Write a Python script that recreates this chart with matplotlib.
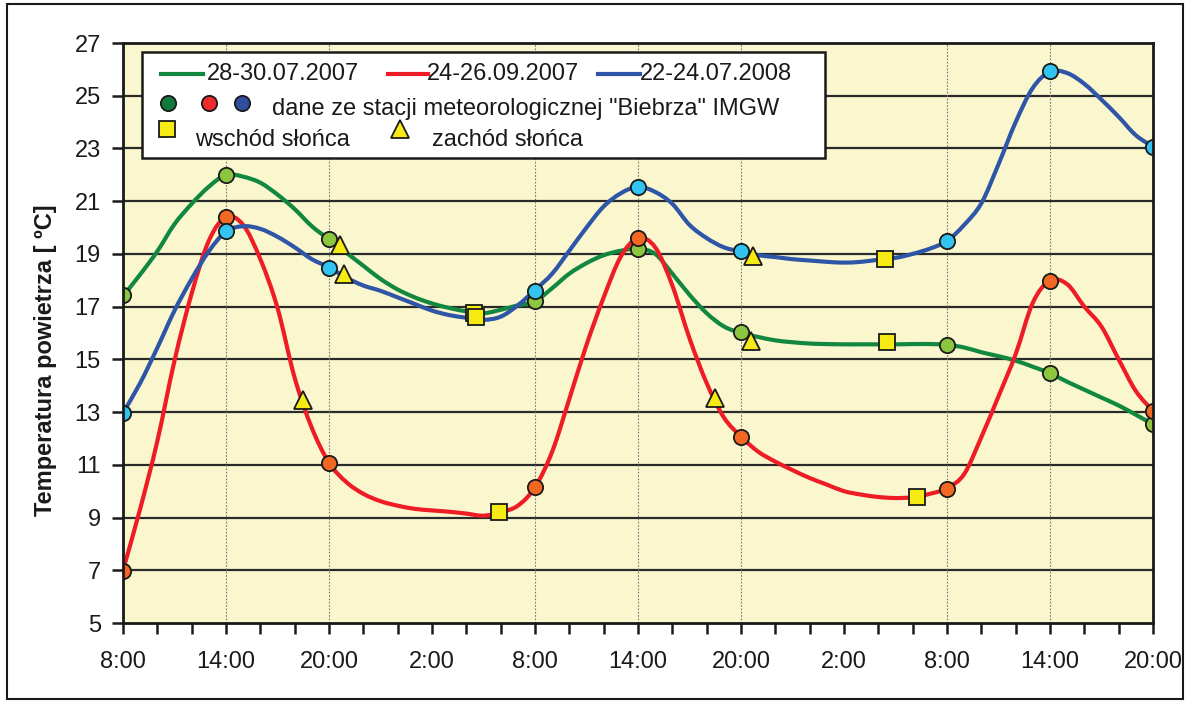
import matplotlib
matplotlib.use("Agg")
import matplotlib.pyplot as plt
from matplotlib.patches import Rectangle, PathPatch
from matplotlib.path import Path
from matplotlib.lines import Line2D

# ---------------- data ----------------
hours = list(range(0, 61))  # hours since 8:00 of day 1
tick_hours = list(range(0, 61, 2))
tick_labels = ["8:00", "", "", "14:00", "", "", "20:00", "", "", "2:00", "", "",
               "8:00", "", "", "14:00", "", "", "20:00", "", "", "2:00", "", "",
               "8:00", "", "", "14:00", "", "", "20:00"]
y_ticks = [5, 7, 9, 11, 13, 15, 17, 19, 21, 23, 25, 27]

series_names = ["28-30.07.2007", "24-26.09.2007", "22-24.07.2008"]

t_2007_07 = [17.4, 18.22, 19.1, 20.13, 20.9, 21.55, 22.0, 21.93, 21.7, 21.25,
             20.7, 20.05, 19.55, 19.05, 18.55, 18.05, 17.65, 17.35, 17.12, 16.95,
             16.82, 16.75, 16.88, 17.05, 17.2, 17.7, 18.25, 18.65, 18.95, 19.12,
             19.2, 19.0, 18.25, 17.45, 16.75, 16.25, 16.0, 15.85, 15.72, 15.65,
             15.6, 15.58, 15.57, 15.57, 15.57, 15.57, 15.58, 15.58, 15.55, 15.45,
             15.27, 15.12, 14.95, 14.72, 14.47, 14.15, 13.85, 13.55, 13.25, 12.9,
             12.53]
t_2007_09 = [7.0, 9.33, 11.9, 14.95, 17.5, 19.5, 20.4, 20.1, 18.8, 16.95,
             14.3, 12.4, 11.08, 10.35, 9.9, 9.62, 9.45, 9.33, 9.27, 9.22,
             9.15, 9.07, 9.2, 9.45, 10.15, 11.5, 13.5, 15.55, 17.35, 18.9,
             19.6, 19.25, 17.8, 15.8, 14.1, 12.8, 12.07, 11.5, 11.12, 10.8,
             10.5, 10.25, 10.0, 9.87, 9.78, 9.74, 9.77, 9.9, 10.11, 10.65,
             12.05, 13.6, 15.2, 17.15, 17.99, 17.85, 17.0, 16.24, 15.0, 13.8,
             13.04]
t_2008_07 = [12.97, 14.1, 15.44, 16.85, 18.05, 19.1, 19.85, 20.05, 19.95, 19.65,
             19.25, 18.8, 18.49, 18.1, 17.8, 17.6, 17.35, 17.1, 16.85, 16.68,
             16.58, 16.5, 16.62, 17.05, 17.63, 18.25, 19.12, 20.0, 20.8, 21.3,
             21.55, 21.35, 20.9, 20.1, 19.6, 19.25, 19.09, 18.95, 18.88, 18.8,
             18.75, 18.7, 18.67, 18.7, 18.78, 18.85, 19.0, 19.2, 19.49, 20.1,
             20.92, 22.4, 24.0, 25.3, 25.91, 25.86, 25.45, 24.85, 24.2, 23.5,
             23.07]

# station "Biebrza" IMGW readings (8:00, 14:00, 20:00)
station_hours = [0, 6, 12, 24, 30, 36, 48, 54, 60]
station_2007_07 = [17.44, 22.0, 19.57, 17.22, 19.19, 16.02, 15.55, 14.48, 12.53]
station_2007_09 = [6.98, 20.41, 11.08, 10.15, 19.62, 12.07, 10.09, 17.99, 13.04]
station_2008_07 = [12.97, 19.86, 18.48, 17.6, 21.55, 19.1, 19.49, 25.92, 23.07]

# sunrise (squares) and sunset (triangles)
sunrise_h_2007_07 = [20.45, 44.5]
sunrise_t_2007_07 = [16.76, 15.67]
sunset_h_2007_07 = [12.65, 36.6]
sunset_t_2007_07 = [19.34, 15.71]

sunrise_h_2007_09 = [21.9, 46.25]
sunrise_t_2007_09 = [9.22, 9.79]
sunset_h_2007_09 = [10.5, 34.5]
sunset_t_2007_09 = [13.46, 13.52]

sunrise_h_2008_07 = [20.55, 44.4]
sunrise_t_2008_07 = [16.6, 18.8]
sunset_h_2008_07 = [12.87, 36.7]
sunset_t_2008_07 = [18.24, 18.92]

# ---------------- style ----------------
plt.rcParams['font.family'] = ['Liberation Sans', 'DejaVu Sans']
line_colors = ["#11873F", "#EE1D25", "#2F55A6"]
dot_colors = ["#8CC63F", "#F26722", "#32C3F0"]
legend_dot_colors = ["#117A3B", "#ED2A2C", "#2F4F9E"]
yellow = "#F5EA14"
FS = 17
INK = "#1A1A1A"


def smooth_path(xs, ys):
    """Excel-like smoothed line: cubic Bezier segments through the points."""
    verts = [(xs[0], ys[0])]
    codes = [Path.MOVETO]
    n = len(xs)
    for i in range(n - 1):
        x0, y0 = (xs[i - 1], ys[i - 1]) if i > 0 else (xs[i], ys[i])
        x1, y1 = xs[i], ys[i]
        x2, y2 = xs[i + 1], ys[i + 1]
        x3, y3 = (xs[i + 2], ys[i + 2]) if i + 2 < n else (x2, y2)
        c1 = (x1 + (x2 - x0) / 6.0, y1 + (y2 - y0) / 6.0)
        c2 = (x2 - (x3 - x1) / 6.0, y2 - (y3 - y1) / 6.0)
        verts += [c1, c2, (x2, y2)]
        codes += [Path.CURVE4] * 3
    return Path(verts, codes)


fig = plt.figure(figsize=(11.88, 7.02), dpi=100)
fig.patch.set_facecolor("white")
ax = fig.add_axes([123 / 1188, 79 / 702, 1030 / 1188, 580 / 702])
ax.set_facecolor("#FAF7CF")

ax.set_xlim(0, 60)
ax.set_ylim(5, 27)

# grid
for yv in y_ticks[1:-1]:
    ax.axhline(yv, color="#2A2A2A", lw=1.6, zorder=1)
for xv in station_hours[1:-1]:
    ax.axvline(xv, color="#777777", lw=0.8, ls=(0, (1.5, 1.5)), zorder=1)

series = [t_2007_07, t_2007_09, t_2008_07]
stations = [station_2007_07, station_2007_09, station_2008_07]
sunrises = [(sunrise_h_2007_07, sunrise_t_2007_07), (sunrise_h_2007_09, sunrise_t_2007_09),
            (sunrise_h_2008_07, sunrise_t_2008_07)]
sunsets = [(sunset_h_2007_07, sunset_t_2007_07), (sunset_h_2007_09, sunset_t_2007_09),
           (sunset_h_2008_07, sunset_t_2008_07)]

for i in range(3):
    ax.add_patch(PathPatch(smooth_path(hours, series[i]), facecolor="none",
                           edgecolor=line_colors[i], lw=3.0, zorder=3,
                           joinstyle="round", capstyle="round"))
for i in range(3):
    ax.plot(station_hours, stations[i], ls="none", marker="o", ms=11,
            mfc=dot_colors[i], mec=INK, mew=1.3, zorder=5)
for i in range(3):
    ax.plot(sunrises[i][0], sunrises[i][1], ls="none", marker="s", ms=11,
            mfc=yellow, mec=INK, mew=1.3, zorder=6)
    ax.plot(sunsets[i][0], sunsets[i][1], ls="none", marker="^", ms=13,
            mfc=yellow, mec=INK, mew=1.3, zorder=6)

# axes / ticks
ax.set_xticks(tick_hours)
ax.set_xticklabels(tick_labels)
ax.set_yticks(y_ticks)
ax.set_yticklabels([str(v) for v in y_ticks])
ax.tick_params(axis="x", direction="out", length=8, width=1.8, pad=12,
               labelsize=FS, colors=INK)
ax.tick_params(axis="y", direction="out", length=8, width=1.8, pad=8,
               labelsize=FS, colors=INK)
for s in ax.spines.values():
    s.set_linewidth(2.0)
    s.set_color(INK)
    s.set_zorder(7)

ax.set_ylabel("Temperatura powietrza [ ºC]", fontsize=FS, fontweight="bold",
              color=INK)
ax.yaxis.set_label_coords(-0.064, 0.453)

# legend (built manually)
T = ax.transAxes
ax.add_patch(Rectangle((0.0184, 0.8017), 0.6632, 0.1828, transform=T,
                       facecolor="white", edgecolor=INK, lw=1.8, zorder=10))
row1 = 0.9466
line_spans = [(0.0369, 0.0777), (0.2573, 0.2961), (0.461, 0.502)]
text_x = [0.0816, 0.2951, 0.502]
for i in range(3):
    ax.add_line(Line2D(list(line_spans[i]), [row1, row1], transform=T,
                       color=line_colors[i], lw=3.0, zorder=11))
    ax.text(text_x[i], row1, series_names[i], transform=T, fontsize=FS,
            ha="left", va="center", color=INK, zorder=12)
row2 = 0.8966
for xi, c in zip([0.0437, 0.0835, 0.1155], legend_dot_colors):
    ax.add_line(Line2D([xi], [row2], transform=T, ls="none", marker="o", ms=11,
                       mfc=c, mec=INK, mew=1.3, zorder=11))
ax.text(0.1447, 0.886, 'dane ze stacji meteorologicznej "Biebrza" IMGW', transform=T,
        fontsize=FS, ha="left", va="center", color=INK, zorder=12)
ax.add_line(Line2D([0.0427], [0.8517], transform=T, ls="none", marker="s", ms=11,
                   mfc=yellow, mec=INK, mew=1.3, zorder=11))
ax.text(0.0699, 0.8328, "wschód słońca", transform=T, fontsize=FS, ha="left",
        va="center", color=INK, zorder=12)
ax.add_line(Line2D([0.2689], [0.852], transform=T, ls="none", marker="^", ms=13,
                   mfc=yellow, mec=INK, mew=1.3, zorder=11))
ax.text(0.300, 0.8328, "zachód słońca", transform=T, fontsize=FS, ha="left",
        va="center", color=INK, zorder=12)

# outer frame
fig.patches.append(Rectangle((7 / 1188, 3 / 702), 1176 / 1188, 695 / 702,
                             transform=fig.transFigure, fill=False,
                             edgecolor=INK, lw=1.5))

fig.savefig("out.png", dpi=100)
